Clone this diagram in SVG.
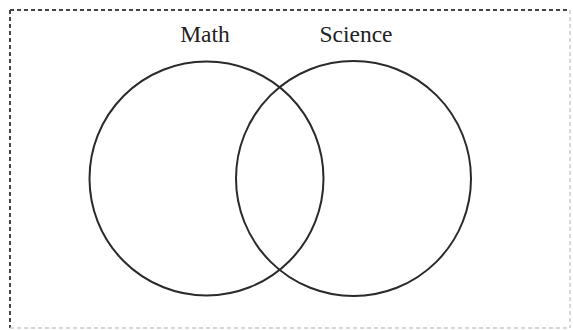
<svg xmlns="http://www.w3.org/2000/svg" width="573" height="330" viewBox="0 0 573 330">
<style>
.c{fill:none;stroke:#2a2a2a;stroke-width:2}
.t{font-family:"Liberation Serif",serif;font-size:23.5px;fill:#222;text-anchor:middle}
.bd{stroke:#444;stroke-width:2;stroke-dasharray:4 3;fill:none}
.bl{stroke:#ccc;stroke-width:1.5;stroke-dasharray:4 3;fill:none}
</style>
<rect width="573" height="330" fill="#fff"/>
<g id="border">
<line class="bd" x1="10" y1="10" x2="570" y2="10"/>
<line class="bd" x1="10" y1="10" x2="10" y2="328"/>
<line class="bl" x1="570" y1="10" x2="570" y2="328"/>
<line class="bl" x1="10" y1="328" x2="570" y2="328"/>
</g>
<g id="math">
<circle class="c" cx="206.5" cy="178.5" r="117"/>
<text class="t" x="205" y="42">Math</text>
</g>
<g id="science">
<circle class="c" cx="353.5" cy="178.5" r="117.5"/>
<text class="t" x="356" y="42">Science</text>
</g>
<g id="connectors"></g>
</svg>
